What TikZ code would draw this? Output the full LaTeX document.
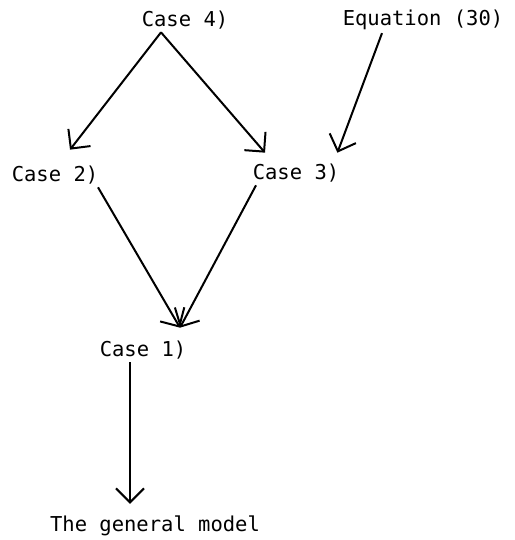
\documentclass[tikz,border=0pt]{standalone}
\usepackage{fontspec}
\setmonofont{DejaVu Sans Mono}
\usetikzlibrary{arrows.meta}
\begin{document}
\begin{tikzpicture}[x=1pt,y=-1pt,
  lbl/.style={font=\ttfamily\fontsize{20.5}{22}\selectfont, inner sep=0pt, anchor=center},
  conn/.style={line width=2pt, -{Straight Barb[length=14pt,width=28pt,line width=2pt]}}]
\useasboundingbox (0,0) rectangle (514,540);
\node[lbl] (c4) at (185,20) {Case 4)};
\node[lbl] (eq) at (423,20) {Equation (30)};
\node[lbl] (c2) at (55,175) {Case 2)};
\node[lbl] (c3) at (296,173) {Case 3)};
\node[lbl] (c1) at (143,350) {Case 1)};
\node[lbl] (gm) at (155,526) {The general model};
\coordinate (c4s) at ([xshift=-24pt,yshift=-3pt]c4.south);
\coordinate (c2n) at ([xshift=15pt,yshift=16pt]c2.north);
\coordinate (c3n) at ([xshift=-31pt,yshift=11pt]c3.north);
\coordinate (c3ne) at ([xshift=-2pt,yshift=11pt]c3.north east);
\coordinate (eqs) at ([xshift=-41pt,yshift=-3pt]eq.south);
\coordinate (c2s) at ([xshift=43pt,yshift=-3pt]c2.south);
\coordinate (c3s) at ([xshift=-40pt,yshift=-3pt]c3.south);
\coordinate (c1n) at ([xshift=37pt,yshift=13pt]c1.north);
\coordinate (c1s) at ([xshift=-13pt,yshift=-3pt]c1.south);
\coordinate (gmn) at ([xshift=-25pt,yshift=12pt]gm.north);
\draw[conn] (c4s) -- (c2n);
\draw[conn] (c4s) -- (c3n);
\draw[conn] (eqs) -- (c3ne);
\draw[conn] (c2s) -- (c1n);
\draw[conn] (c3s) -- (c1n);
\draw[conn] (c1s) -- (gmn);
\end{tikzpicture}
\end{document}
